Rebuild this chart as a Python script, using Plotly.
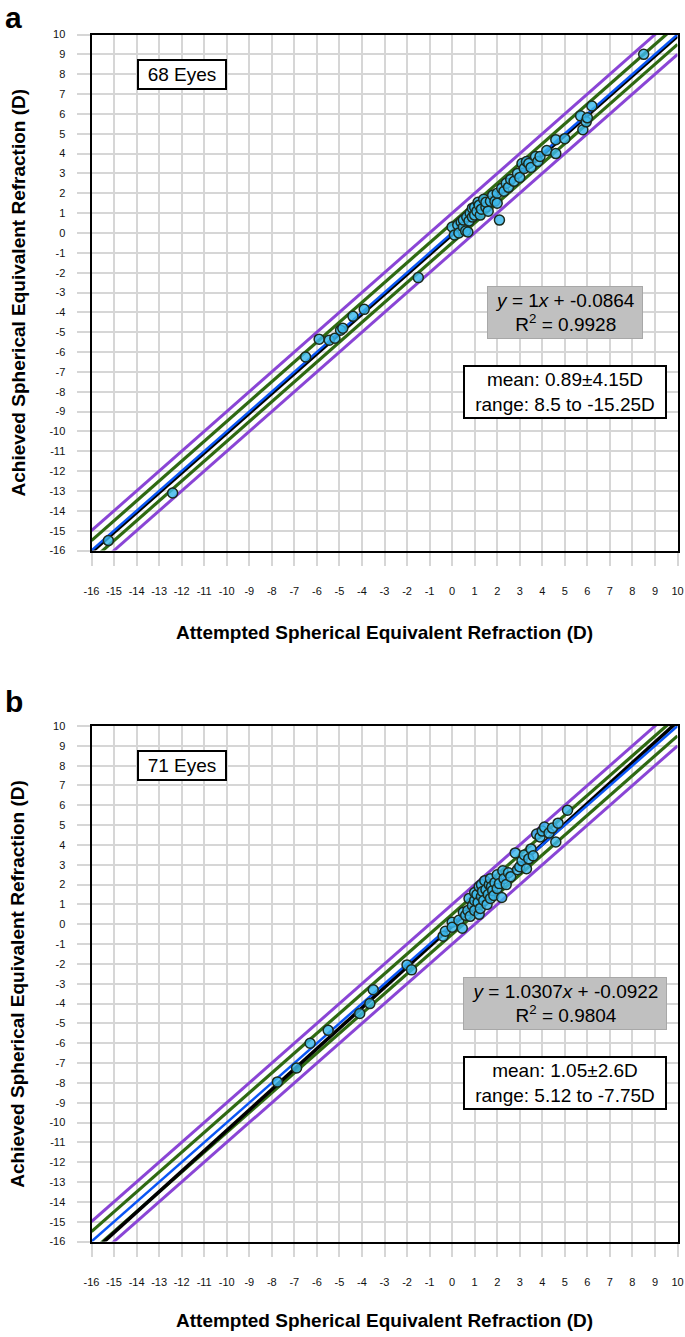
import plotly.graph_objects as go

# ---------------- data ----------------
ticks = list(range(-16, 11))
tick_labels = [str(t) for t in ticks]

a_attempted = [-15.25, -12.4, -6.5, -5.9, -5.45, -5.2, -4.95, -4.85, -4.4, -3.9, -1.5,
               0.0, 0.1, 0.25, 0.3, 0.4, 0.5, 0.5, 0.6, 0.65, 0.7, 0.75, 0.8, 0.9, 0.9,
               1.0, 1.0, 1.1, 1.15, 1.2, 1.25, 1.3, 1.4, 1.5, 1.5, 1.6, 1.7, 1.8, 1.9,
               2.0, 2.0, 2.1, 2.2, 2.3, 2.4, 2.5, 2.6, 2.75, 2.9, 3.0, 3.1, 3.2, 3.3,
               3.4, 3.5, 3.7, 3.8, 3.9, 4.2, 4.6, 4.6, 5.0, 5.7, 5.8, 5.95, 6.0, 6.2, 8.5]
a_achieved = [-15.5, -13.1, -6.25, -5.35, -5.4, -5.3, -4.9, -4.8, -4.2, -3.85, -2.25,
              0.3, -0.1, 0.4, 0.0, 0.55, 0.3, 0.65, 0.1, 0.8, 0.05, 0.6, 1.0, 1.25, 0.8,
              1.3, 0.9, 1.1, 1.55, 1.4, 0.9, 1.2, 1.7, 1.3, 1.55, 1.1, 1.6, 1.9, 1.6,
              2.0, 1.5, 0.65, 2.25, 2.1, 2.5, 2.3, 2.7, 2.6, 3.0, 2.8, 3.5, 3.25, 3.6,
              3.5, 3.3, 3.85, 3.6, 3.85, 4.15, 4.7, 4.0, 4.75, 5.9, 5.2, 5.6, 5.8, 6.4, 9.0]

b_attempted = [-7.75, -6.9, -6.3, -5.5, -4.1, -3.65, -3.5, -2.0, -1.8,
               -0.4, -0.3, 0.0, 0.0, 0.3, 0.45, 0.5, 0.6, 0.7, 0.75, 0.8, 0.9, 1.0, 1.0,
               1.0, 1.1, 1.15, 1.2, 1.2, 1.25, 1.3, 1.3, 1.35, 1.4, 1.45, 1.5, 1.55, 1.6,
               1.65, 1.7, 1.7, 1.75, 1.8, 1.85, 1.9, 2.0, 2.0, 2.1, 2.2, 2.25, 2.3, 2.4,
               2.5, 2.6, 2.8, 2.9, 3.0, 3.1, 3.2, 3.3, 3.4, 3.5, 3.6, 3.75, 3.9, 4.0,
               4.1, 4.3, 4.45, 4.6, 4.7, 5.12]
b_achieved = [-7.95, -7.25, -6.0, -5.35, -4.5, -4.0, -3.3, -2.05, -2.3,
              -0.6, -0.35, 0.1, -0.15, 0.2, -0.2, 0.6, 0.45, 0.7, 1.3, 0.4, 0.95, 1.2, 0.7,
              1.6, 1.5, 1.1, 1.9, 0.5, 0.8, 1.4, 2.0, 1.65, 1.2, 2.2, 1.75, 1.0, 1.5,
              2.0, 1.3, 2.3, 1.9, 1.7, 1.45, 2.1, 1.8, 2.5, 2.05, 1.35, 2.7, 2.3, 2.0,
              2.6, 2.4, 3.6, 2.75, 2.9, 3.2, 3.5, 2.8, 3.3, 3.8, 3.45, 4.55, 4.4, 4.7,
              4.9, 4.6, 4.85, 4.15, 5.1, 5.75]

a_fit = (1.0, -0.0864)
b_fit = (1.0307, -0.0922)
band_inner = 0.5
band_outer = 1.0

a_texts = ["68 Eyes", "<i>y</i> = 1<i>x</i> + -0.0864<br>R<sup>2</sup> = 0.9928",
           "mean: 0.89±4.15D<br>range: 8.5 to -15.25D"]
b_texts = ["71 Eyes", "<i>y</i> = 1.0307<i>x</i> + -0.0922<br>R<sup>2</sup> = 0.9804",
           "mean: 1.05±2.6D<br>range: 5.12 to -7.75D"]

x_title = "Attempted Spherical Equivalent Refraction (D)"
y_title = "Achieved Spherical Equivalent Refraction (D)"

# ---------------- styles ----------------
W, H = 685, 1337
FONT = "Liberation Sans, Arial, sans-serif"
PURPLE = "#8A45D6"
GREEN = "#2F6A12"
BLUE = "#0A55F5"
MARK = "rgba(60,184,236,0.82)"

x_px = (91.5, 677.5)
panels = [
    dict(top=34.5, bottom=550.5, att=a_attempted, ach=a_achieved, fit=a_fit, texts=a_texts,
         eq_w=156, letter="a", letter_y=0, xt_y=632),
    dict(top=726, bottom=1241.5, att=b_attempted, ach=b_achieved, fit=b_fit, texts=b_texts,
         eq_w=204, letter="b", letter_y=684, xt_y=1320),
]

fig = go.Figure()
line_x = [-16, 10]
annotations = []

for i, p in enumerate(panels):
    xa = "x" if i == 0 else "x2"
    ya = "y" if i == 0 else "y2"
    s, b = p["fit"]
    # lines
    for off, col, w in [(band_outer, PURPLE, 3), (-band_outer, PURPLE, 3),
                        (band_inner, GREEN, 3.2), (-band_inner, GREEN, 3.2)]:
        fig.add_trace(go.Scatter(x=line_x, y=[v + off for v in line_x], mode="lines",
                                 xaxis=xa, yaxis=ya, line=dict(color=col, width=w),
                                 showlegend=False, hoverinfo="skip"))
    fig.add_trace(go.Scatter(x=line_x, y=[s * v + b for v in line_x], mode="lines",
                             xaxis=xa, yaxis=ya, line=dict(color="black", width=3.5),
                             showlegend=False, hoverinfo="skip"))
    fig.add_trace(go.Scatter(x=line_x, y=line_x, mode="lines",
                             xaxis=xa, yaxis=ya, line=dict(color=BLUE, width=2.5),
                             showlegend=False, hoverinfo="skip"))
    # markers
    fig.add_trace(go.Scatter(x=p["att"], y=p["ach"], mode="markers", xaxis=xa, yaxis=ya,
                             marker=dict(size=10, color=MARK, line=dict(color="#1c2a1c", width=1.5)),
                             showlegend=False, cliponaxis=True))

    dom_y = [1 - p["bottom"] / H, 1 - p["top"] / H]
    ax = dict(range=[-16, 10], tickvals=ticks, ticktext=tick_labels, showgrid=True,
              gridcolor="#d6d6d6", gridwidth=1.5, zeroline=False, showline=True,
              linecolor="black", linewidth=2, mirror=True, ticks="outside", ticklen=13,
              tickcolor="#d6d6d6", tickwidth=1.5, automargin=False,
              tickfont=dict(family=FONT, size=11, color="#111"))
    xkey = "xaxis" if i == 0 else "xaxis2"
    ykey = "yaxis" if i == 0 else "yaxis2"
    fig.update_layout(**{
        xkey: dict(ax, domain=[x_px[0] / W, x_px[1] / W], anchor=ya, ticklabelstandoff=16),
        ykey: dict(ax, domain=dom_y, anchor=xa, ticklabelstandoff=9),
    })

    # text boxes
    tf = dict(family=FONT, size=19, color="black")
    annotations.append(dict(xref=xa, yref=ya, x=-12, y=8, text=p["texts"][0], showarrow=False,
                            font=tf, bordercolor="black", borderwidth=2, bgcolor="white",
                            width=86, height=27, borderpad=0))
    annotations.append(dict(xref=xa, yref=ya, x=5, y=-4, text=p["texts"][1], showarrow=False,
                            font=tf, bordercolor="#a8a8a8", borderwidth=1, bgcolor="#c0c0c0",
                            width=p["eq_w"] - 2, height=51, borderpad=0))
    annotations.append(dict(xref=xa, yref=ya, x=5, y=-8, text=p["texts"][2], showarrow=False,
                            font=tf, bordercolor="black", borderwidth=2, bgcolor="white",
                            width=200, height=50, borderpad=0))
    # axis titles
    annotations.append(dict(xref="paper", yref="paper", x=384.5 / W, y=1 - p["xt_y"] / H,
                            text="<b>" + x_title + "</b>", showarrow=False,
                            font=dict(family=FONT, size=19, color="black"),
                            xanchor="center", yanchor="middle"))
    annotations.append(dict(xref="paper", yref="paper", x=18 / W,
                            y=1 - (p["top"] + p["bottom"]) / 2 / H,
                            text="<b>" + y_title + "</b>", showarrow=False, textangle=-90,
                            font=dict(family=FONT, size=19, color="black"),
                            xanchor="center", yanchor="middle"))
    annotations.append(dict(xref="paper", yref="paper", x=4 / W, y=1 - p["letter_y"] / H,
                            text="<b>" + p["letter"] + "</b>", showarrow=False,
                            font=dict(family=FONT, size=30, color="black"),
                            xanchor="left", yanchor="top", borderpad=0))

fig.update_layout(width=W, height=H, margin=dict(l=0, r=0, t=0, b=0, autoexpand=False),
                  paper_bgcolor="white", plot_bgcolor="white",
                  annotations=annotations, showlegend=False)

fig.write_html("out.html", config={"displayModeBar": False},
               post_script="document.body.style.margin='0';"
                           "document.documentElement.style.overflow='hidden';")
